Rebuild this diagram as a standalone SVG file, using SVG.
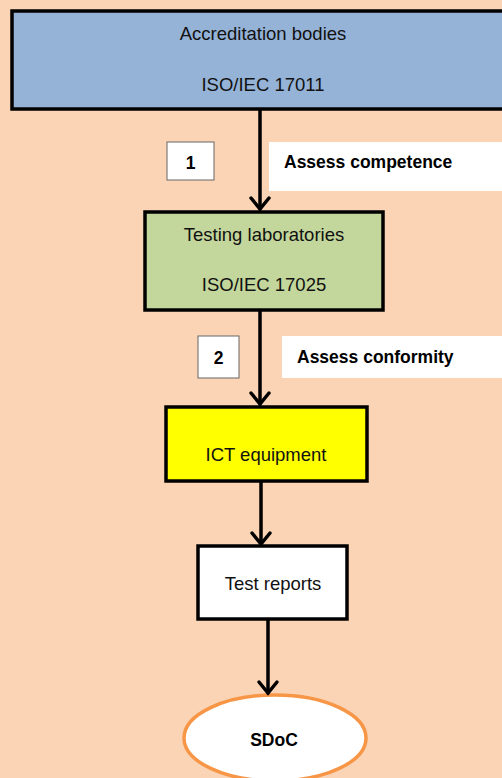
<svg xmlns="http://www.w3.org/2000/svg" width="502" height="778" viewBox="0 0 502 778">
<style>
.box{stroke:#000;stroke-width:3.5}
.t{font-family:"Liberation Sans",Arial,sans-serif;font-size:18.5px;fill:#111;text-anchor:middle}
.b{font-family:"Liberation Sans",Arial,sans-serif;font-size:17.5px;font-weight:bold;fill:#000}
.lbl{fill:#fff}
.num{fill:#fff;stroke:#666;stroke-width:1}
</style>
<rect width="502" height="778" fill="#FAD4B4"/>
<g id="accreditation">
<rect class="box" x="12" y="11" width="494" height="98" fill="#95B3D7"/>
<text class="t" x="263" y="40">Accreditation bodies</text>
<text class="t" x="263" y="91">ISO/IEC 17011</text>
</g>
<g id="label1">
<rect class="num" x="167" y="142" width="47" height="38"/>
<text class="b" x="190.5" y="169" text-anchor="middle" font-size="19">1</text>
</g>
<g id="assess-competence">
<rect class="lbl" x="269" y="142" width="233" height="49"/>
<text class="b" x="284" y="168">Assess competence</text>
</g>
<g id="testing">
<rect class="box" x="145" y="212" width="238" height="98" fill="#C3D69B"/>
<text class="t" x="264" y="241">Testing laboratories</text>
<text class="t" x="264" y="291">ISO/IEC 17025</text>
</g>
<g id="label2">
<rect class="num" x="198" y="336" width="41" height="42"/>
<text class="b" x="218.5" y="364" text-anchor="middle" font-size="19">2</text>
</g>
<g id="assess-conformity">
<rect class="lbl" x="282" y="336" width="220" height="42"/>
<text class="b" x="297" y="363">Assess conformity</text>
</g>
<g id="ict">
<rect class="box" x="166" y="407" width="201" height="74" fill="#FFFF00"/>
<text class="t" x="266" y="461">ICT equipment</text>
</g>
<g id="reports">
<rect class="box" x="198" y="546" width="149" height="73" fill="#fff"/>
<text class="t" x="273" y="590">Test reports</text>
</g>
<g id="sdoc">
<ellipse cx="275" cy="738" rx="91" ry="43" fill="#fff" stroke="#F79646" stroke-width="3.5"/>
<text class="b" x="274" y="746" text-anchor="middle">SDoC</text>
</g>
<g id="connectors" stroke="#000" stroke-width="3.5" fill="none" stroke-linecap="round">
<path d="M260 110 V209"/><path d="M251 198 L260 209 L269 198"/>
<path d="M260 311 V404"/><path d="M251 393 L260 404 L269 393"/>
<path d="M261 482 V544"/><path d="M252 533 L261 544 L270 533"/>
<path d="M268 620 V693"/><path d="M259 682 L268 693 L277 682"/>
</g>
</svg>
